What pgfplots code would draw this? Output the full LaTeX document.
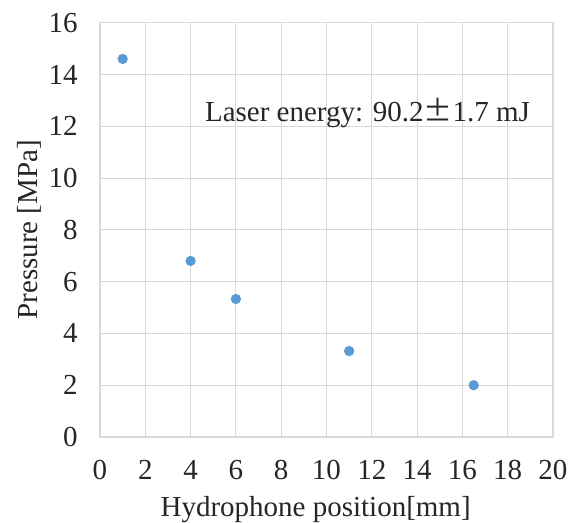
\documentclass[border=0pt]{standalone}
\usepackage{fontspec}
\setmainfont{Liberation Serif}
\newfontfamily\cjk{Noto Sans CJK SC}
\usepackage{pgfplots}
\pgfplotsset{compat=1.18}
\definecolor{ptblue}{HTML}{5B9BD5}
\definecolor{gridgray}{HTML}{D9D9D9}
\newcommand{\cf}{\fontsize{14.5}{17}\selectfont}
\begin{document}
\begin{tikzpicture}
\useasboundingbox (-50pt,-43pt) rectangle (237.5pt,218.5pt);
\begin{axis}[
  at={(0,0)}, anchor=south west,
  scale only axis,
  width=226.5pt, height=207.15pt,
  xmin=0, xmax=20, ymin=0, ymax=16,
  xtick={0,2,...,20}, ytick={0,2,...,16},
  major tick length=0pt,
  grid=major,
  grid style={draw=gridgray, line width=0.55pt},
  axis line style={draw=gridgray, line width=0.55pt},
  /pgf/number format/assume math mode=true,
  tick label style={font=\cf, text=black!85},
  yticklabel style={xshift=-7.7pt},
  xticklabel style={yshift=-8.2pt},
  xlabel={Hydrophone position[mm]},
  ylabel={Pressure [MPa]},
  label style={font=\cf, text=black!85},
  xlabel style={at={(axis description cs:0.476,0)}, anchor=base, yshift=-40pt},
  ylabel style={at={([xshift=-31pt]axis description cs:0,0.5)}, anchor=base},
  clip=false,
]
\addplot[only marks, mark=*, mark size=2.35pt, color=ptblue, mark options={draw=ptblue, fill=ptblue}]
  coordinates {(1,14.6) (4,6.8) (6,5.33) (11,3.32) (16.5,2.0)};
\node[font=\cf, text=black!85, anchor=base] at (axis cs:11.81,12.2)
  {Laser energy: 90.2{\cjk ±}1.7 mJ};
\end{axis}
\end{tikzpicture}
\end{document}
